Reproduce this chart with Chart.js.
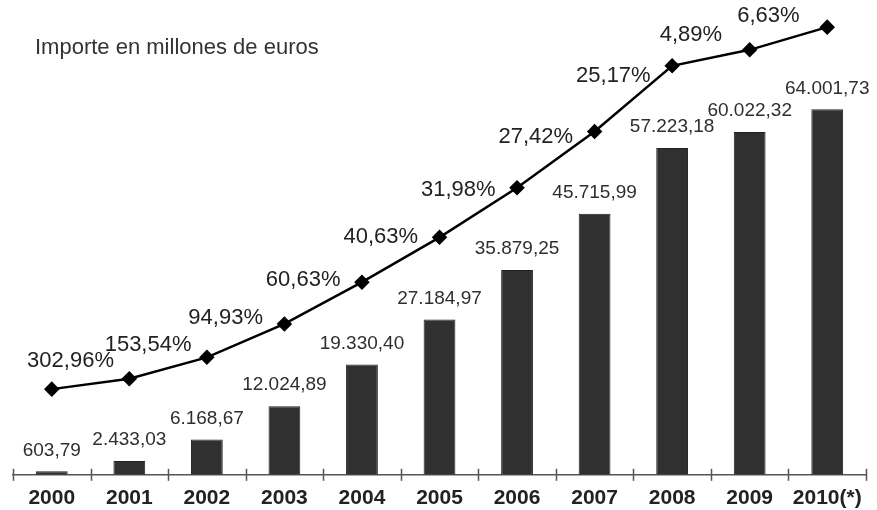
<!DOCTYPE html>
<html>
<head>
  <title>Importe en millones de euros</title>
  <script src="https://cdn.jsdelivr.net/npm/chart.js"></script>
  <style>
    body { background: #fff; margin: 0; padding: 0; overflow: hidden; }
    #wrap { position: relative; width: 877px; height: 510px; overflow: hidden; }
    #title { position: absolute; left: 35px; top: 34px; font: 22px 'Liberation Sans', Arial, sans-serif; color: #333; }
  </style>
</head>
<body>
  <div id="wrap">
    <canvas id="importeChart" width="877" height="522"></canvas>
    <div id="title">Importe en millones de euros</div>
  </div>
  <script>
    const years = ['2000', '2001', '2002', '2003', '2004', '2005', '2006', '2007', '2008', '2009', '2010(*)'];
    // importe anual, millones de euros
    const importe = [603.79, 2433.03, 6168.67, 12024.89, 19330.40, 27184.97, 35879.25, 45715.99, 57223.18, 60022.32, 64001.73];
    // variación respecto al año siguiente
    const variacion = [302.96, 153.54, 94.93, 60.63, 40.63, 31.98, 27.42, 25.17, 4.89, 6.63];

    const FONT = "'Liberation Sans', Arial, sans-serif";

    function fmtNum(v) {
      const [i, d] = v.toFixed(2).split('.');
      return i.replace(/\B(?=(\d{3})+(?!\d))/g, '.') + ',' + d;
    }
    function fmtPct(v) {
      return v.toFixed(2).replace('.', ',') + '%';
    }

    // value labels, percentage labels and the little boundary ticks on the axis
    const labelsPlugin = {
      id: 'labels',
      afterDatasetsDraw(chart) {
        const ctx = chart.ctx;
        const bars = chart.getDatasetMeta(1).data;
        const pts = chart.getDatasetMeta(0).data;
        ctx.save();
        ctx.textAlign = 'center';
        ctx.textBaseline = 'middle';

        ctx.font = '19px ' + FONT;
        ctx.fillStyle = '#2e2e2e';
        bars.forEach((b, i) => ctx.fillText(fmtNum(importe[i]), b.x, b.y - 21));

        // growth label sits above-left of the segment it describes
        ctx.font = '22px ' + FONT;
        ctx.fillStyle = '#222';
        variacion.forEach((v, i) => {
          const mx = (pts[i].x + pts[i + 1].x) / 2;
          const my = (pts[i].y + pts[i + 1].y) / 2;
          ctx.fillText(fmtPct(v), mx - 20, my - 23);
        });

        const area = chart.chartArea;
        const step = (area.right - area.left) / years.length;
        ctx.strokeStyle = '#555';
        ctx.lineWidth = 1.5;
        for (let i = 0; i <= years.length; i++) {
          const x = Math.round(area.left + i * step) + 0.5;
          ctx.beginPath();
          ctx.moveTo(x, area.bottom - 6);
          ctx.lineTo(x, area.bottom + 6);
          ctx.stroke();
        }
        ctx.restore();
      }
    };

    new Chart(document.getElementById('importeChart'), {
      data: {
        labels: years,
        datasets: [
          {
            type: 'line',
            data: importe,
            yAxisID: 'y2',
            borderColor: '#000',
            borderWidth: 2.5,
            tension: 0,
            pointStyle: 'rectRot',
            pointRadius: 6,
            pointBackgroundColor: '#000',
            pointBorderColor: '#000',
            clip: false,
            order: 0
          },
          {
            type: 'bar',
            data: importe,
            yAxisID: 'y',
            backgroundColor: '#303030',
            borderColor: '#222',
            borderWidth: 1,
            categoryPercentage: 1,
            barPercentage: 0.41,
            order: 1
          }
        ]
      },
      options: {
        responsive: false,
        animation: false,
        layout: { padding: { left: 13, right: 11, top: 18, bottom: 0 } },
        plugins: { legend: { display: false }, tooltip: { enabled: false } },
        scales: {
          x: {
            grid: { display: false, drawTicks: false },
            border: { display: true, color: '#555', width: 1.5 },
            ticks: { color: '#222', padding: 11, font: { family: FONT, size: 21, weight: 'bold' }, maxRotation: 0, autoSkip: false }
          },
          y: { display: false, min: 0, max: 80000 },
          // same scale as the bars, shifted so the line runs above them
          y2: { display: false, min: -14400, max: 65600 }
        }
      },
      plugins: [labelsPlugin]
    });
  </script>
</body>
</html>
